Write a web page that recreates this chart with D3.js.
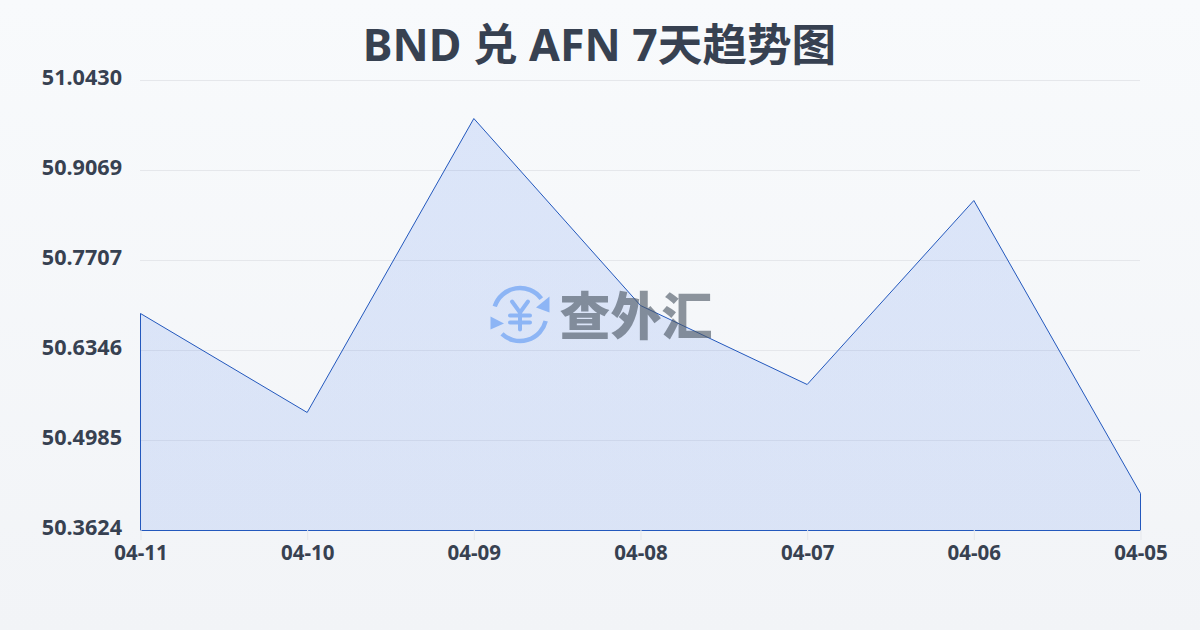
<!DOCTYPE html>
<html><head><meta charset="utf-8">
<script src="https://cdn.jsdelivr.net/npm/d3@7/dist/d3.min.js"></script>
<style>html,body{margin:0;padding:0;width:1200px;height:630px;overflow:hidden}svg{display:block}</style>
</head><body><svg id="c" width="1200" height="630"></svg>
<script>
const titleText = "BND 兑 AFN 7天趋势图";
const categories = ["04-11","04-10","04-09","04-08","04-07","04-06","04-05"];
const values = [50.6906,50.5409,50.9855,50.7027,50.5832,50.8615,50.4184];
const yTickLabels = ["50.3624","50.4985","50.6346","50.7707","50.9069","51.0430"];
const yMin = 50.3624, yMax = 51.0430;
const font = "'Noto Sans','Noto Sans CJK SC',sans-serif";

const svg = d3.select("#c");
const defs = svg.append("defs");
const bg = defs.append("linearGradient").attr("id","bg").attr("x1",0).attr("y1",0).attr("x2",0).attr("y2",1);
bg.append("stop").attr("offset",0).attr("stop-color","#f8fafc");
bg.append("stop").attr("offset",1).attr("stop-color","#f2f4f7");
const af = defs.append("linearGradient").attr("id","af").attr("gradientUnits","userSpaceOnUse").attr("x1",0).attr("y1",118).attr("x2",0).attr("y2",530);
af.append("stop").attr("offset",0).attr("stop-color","#2563eb").attr("stop-opacity",.13);
af.append("stop").attr("offset",1).attr("stop-color","#2563eb").attr("stop-opacity",.12);
svg.append("rect").attr("width",1200).attr("height",630).attr("fill","url(#bg)");

const x = d3.scalePoint().domain(categories).range([140.5,1140.5]);
const y = d3.scaleLinear().domain([yMin,yMax]).range([530.5,80.5]);

svg.append("text").attr("x",599.5).attr("y",61).attr("text-anchor","middle")
  .attr("font-family",font).attr("font-weight",700).attr("font-size",44.6).attr("fill","#374151").text(titleText);

const yTickVals = yTickLabels.map(Number);
svg.append("g").selectAll("line").data(yTickVals).join("line")
  .attr("x1",140).attr("x2",1140).attr("y1",d=>Math.round(y(d)-.5)+.5).attr("y2",d=>Math.round(y(d)-.5)+.5)
  .attr("stroke","#e5e7eb").attr("stroke-width",1);

const area = d3.area().x((d,i)=>x(categories[i])).y0(y(yMin)).y1(d=>y(d));
svg.append("path").datum(values).attr("d",area).attr("fill","url(#af)").attr("stroke","#2358bd").attr("stroke-width",1);

const xAxis = d3.axisBottom(x).tickSize(10).tickPadding(5);
const gx = svg.append("g").attr("transform","translate(0,530)").call(xAxis);
gx.select(".domain").remove();
gx.selectAll("line").attr("stroke","#e5e7eb");
gx.selectAll("text").attr("font-family",font).attr("font-weight",700).attr("font-size",20.5).attr("fill","#374151");

const yAxis = d3.axisLeft(y).tickValues(yTickVals).tickFormat((d,i)=>yTickLabels[i]).tickSize(0).tickPadding(18);
const gy = svg.append("g").attr("transform","translate(140,0)").call(yAxis);
gy.select(".domain").remove();
gy.selectAll("text").attr("font-family",font).attr("font-weight",700).attr("font-size",21.6).attr("fill","#374151").attr("dy","0.2em");

// watermark
const wm = svg.append("g").attr("id","watermark");
const ic = wm.append("g").attr("transform","translate(520,314.5)").attr("fill","none").attr("stroke","#8db5f5");
const arc = d3.arc().innerRadius(26.5).outerRadius(26.5);
ic.append("path").attr("d",arc({startAngle:-1.26,endAngle:.93})).attr("stroke-width",4.5).attr("stroke-linecap","round");
ic.append("path").attr("d",arc({startAngle:1.82,endAngle:3.89})).attr("stroke-width",4.5).attr("stroke-linecap","round");
ic.append("path").attr("d","M29.5 -18 L29.5 -2 L16 -7 Z").attr("fill","#8db5f5").attr("stroke","none");
ic.append("path").attr("d","M-29.5 2 L-29.5 15 L-16 9 Z").attr("fill","#8db5f5").attr("stroke","none");
ic.append("path").attr("d","M-8 -13 L0 -2 L8 -13 M0 -2 V15 M-10 1 H10 M-10 8 H10").attr("stroke-width",4).attr("stroke-linecap","round").attr("stroke-linejoin","round");
wm.append("text").attr("x",636).attr("y",335).attr("text-anchor","middle").attr("font-family","'Noto Sans CJK SC'").attr("font-weight",900)
  .attr("font-size",51).attr("fill","#4b5563").attr("fill-opacity",.62).text("查外汇");
</script></body></html>
